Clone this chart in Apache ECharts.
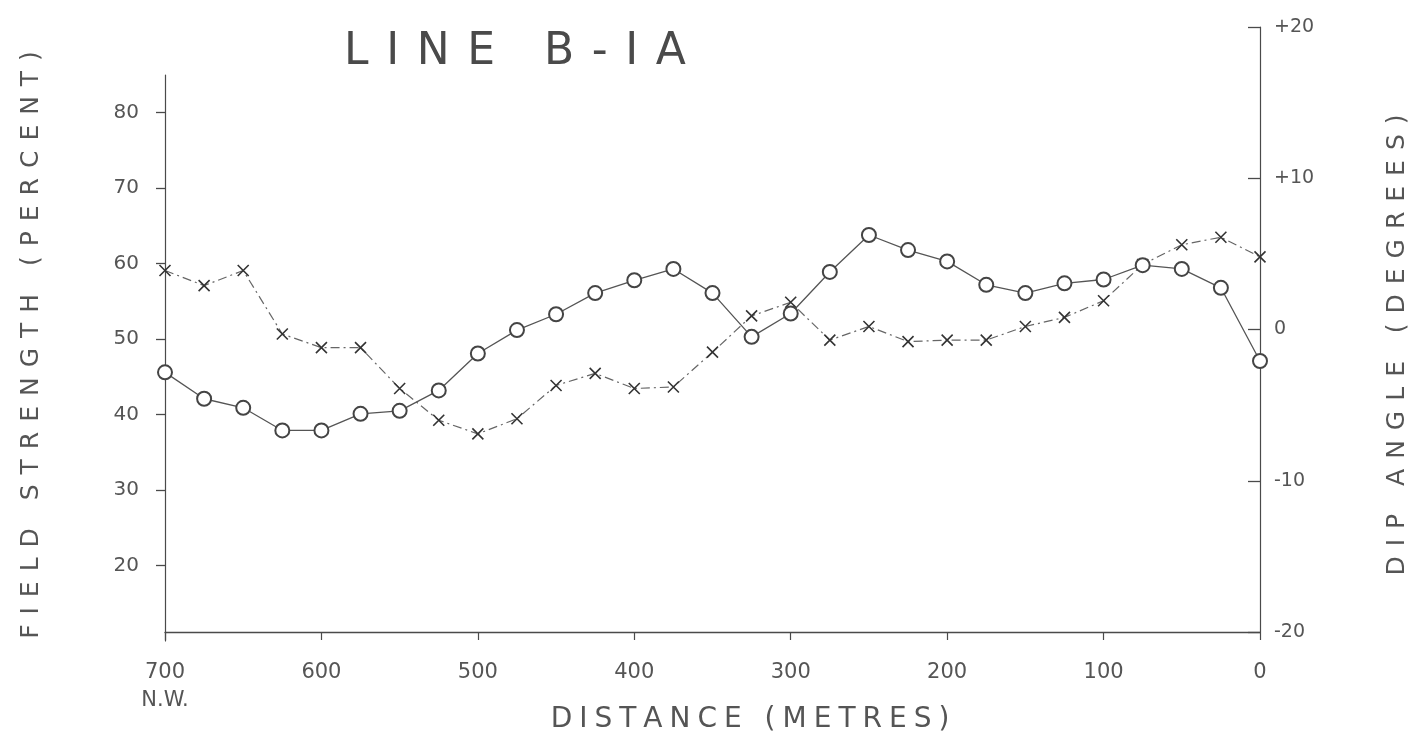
<!DOCTYPE html>
<html>
<head>
<meta charset="utf-8">
<script src="https://cdn.jsdelivr.net/npm/echarts@6/dist/echarts.min.js"></script>
<style>html,body{margin:0;padding:0;background:#fff}#c{width:1424px;height:747px}</style>
</head>
<body>
<div id="c"></div>
<script>
// Distance along the line (metres), read left (700 N.W.) to right (0)
var distance = [700, 675, 650, 625, 600, 575, 550, 525, 500, 475, 450, 425, 400, 375, 350,
                325, 300, 275, 250, 225, 200, 175, 150, 125, 100, 75, 50, 25, 0];
// Field strength (percent) - circles, left axis
var fieldStrength = [45.6, 42.1, 40.9, 37.9, 37.9, 40.1, 40.5, 43.2, 48.1, 51.2, 53.3, 56.1, 57.8, 59.3, 56.1,
                     50.3, 53.4, 58.9, 63.8, 61.8, 60.3, 57.2, 56.1, 57.4, 57.9, 59.8, 59.3, 56.8, 47.1];
// Dip angle (degrees) - crosses, right axis
var dipAngle = [3.9, 2.9, 3.9, -0.3, -1.2, -1.2, -3.9, -6.0, -6.9, -5.9, -3.7, -2.9, -3.9, -3.8, -1.5,
                0.9, 1.8, -0.7, 0.2, -0.8, -0.7, -0.7, 0.2, 0.8, 1.9, 4.3, 5.6, 6.1, 4.8];
var xTicks = [700, 600, 500, 400, 300, 200, 100, 0];
var leftTicks = [20, 30, 40, 50, 60, 70, 80];
var rightTicks = [-20, -10, 0, 10, 20];

var titleText = 'LINE B-IA';
var leftName = 'FIELD STRENGTH (PERCENT)';
var rightName = 'DIP ANGLE (DEGREES)';
var xName = 'DISTANCE (METRES)';

function spread(s, gap) { return s.split('').join(gap); }

var ink = '#4a4a4a';
var font = 'DejaVu Sans';

var chart = echarts.init(document.getElementById('c'), null, {renderer: 'canvas'});
chart.setOption({
  backgroundColor: '#ffffff',
  animation: false,
  grid: [
    {left: 165, right: 164, top: 27, bottom: 115},
    {left: 165, right: 164, top: 75, bottom: 106}
  ],
  xAxis: [
    {
      gridIndex: 0, type: 'value', min: 0, max: 700, interval: 100, inverse: true,
      axisLine: {onZero: false, lineStyle: {color: ink, width: 1.3}},
      axisTick: {length: 8, lineStyle: {color: ink, width: 1.2}},
      splitLine: {show: false},
      axisLabel: {
        margin: 27, color: '#555', fontFamily: font, fontSize: 21, lineHeight: 28,
        formatter: function (v) { return v === 700 ? '700\nN.W.' : String(v); }
      }
    },
    {gridIndex: 1, type: 'value', min: 0, max: 700, inverse: true, show: false, axisLine: {onZero: false}}
  ],
  yAxis: [
    {
      gridIndex: 0, type: 'value', position: 'right', min: -20, max: 20, interval: 10,
      axisLine: {show: true, onZero: false, lineStyle: {color: ink, width: 1.2}},
      axisTick: {show: true, inside: true, length: 12, lineStyle: {color: ink, width: 1.3}},
      splitLine: {show: false},
      axisLabel: {
        margin: 14, color: '#555', fontFamily: font, fontSize: 19,
        formatter: function (v) { return v > 0 ? '+' + v : (v < 0 ? '-' + (-v) : '0'); }
      }
    },
    {
      gridIndex: 1, type: 'value', position: 'left', min: 10, max: 85,
      axisLine: {show: true, onZero: false, lineStyle: {color: ink, width: 1.2}},
      axisTick: {show: true, length: 9, customValues: leftTicks, lineStyle: {color: ink, width: 1.3}},
      splitLine: {show: false},
      axisLabel: {margin: 26, color: '#555', fontFamily: font, fontSize: 20, customValues: leftTicks}
    }
  ],
  series: [
    {
      name: 'Dip angle', type: 'line', xAxisIndex: 0, yAxisIndex: 0,
      data: distance.map(function (d, i) { return [d, dipAngle[i]]; }),
      symbol: 'path://M0,0L10,10M10,0L0,10', symbolSize: 11,
      itemStyle: {color: 'rgba(0,0,0,0)', borderColor: '#333', borderWidth: 1.6},
      lineStyle: {color: '#666', width: 1.2, type: [9, 4, 2, 4]},
      z: 2
    },
    {
      name: 'Field strength', type: 'line', xAxisIndex: 1, yAxisIndex: 1,
      data: distance.map(function (d, i) { return [d, fieldStrength[i]]; }),
      symbol: 'emptyCircle', symbolSize: 14,
      itemStyle: {color: '#444', borderWidth: 1.6},
      lineStyle: {color: '#555', width: 1.3},
      z: 3
    }
  ],
  graphic: [
    {type: 'text', x: 515, y: 53, style: {text: spread(titleText, '\u2009\u2009'), fontFamily: font, fontSize: 44, fill: ink, align: 'center', verticalAlign: 'middle'}},
    {type: 'text', x: 31, y: 345, rotation: Math.PI / 2, style: {text: spread(leftName, '\u2009\u2009'), fontFamily: font, fontSize: 25, fill: '#555', align: 'center', verticalAlign: 'middle'}},
    {type: 'text', x: 1397, y: 345, rotation: Math.PI / 2, style: {text: spread(rightName, '\u2009\u2009'), fontFamily: font, fontSize: 25, fill: '#555', align: 'center', verticalAlign: 'middle'}},
    {type: 'text', x: 750, y: 720, style: {text: spread(xName, '\u2005'), fontFamily: font, fontSize: 28, fill: '#555', align: 'center', verticalAlign: 'middle'}}
  ]
});
</script>
</body>
</html>
